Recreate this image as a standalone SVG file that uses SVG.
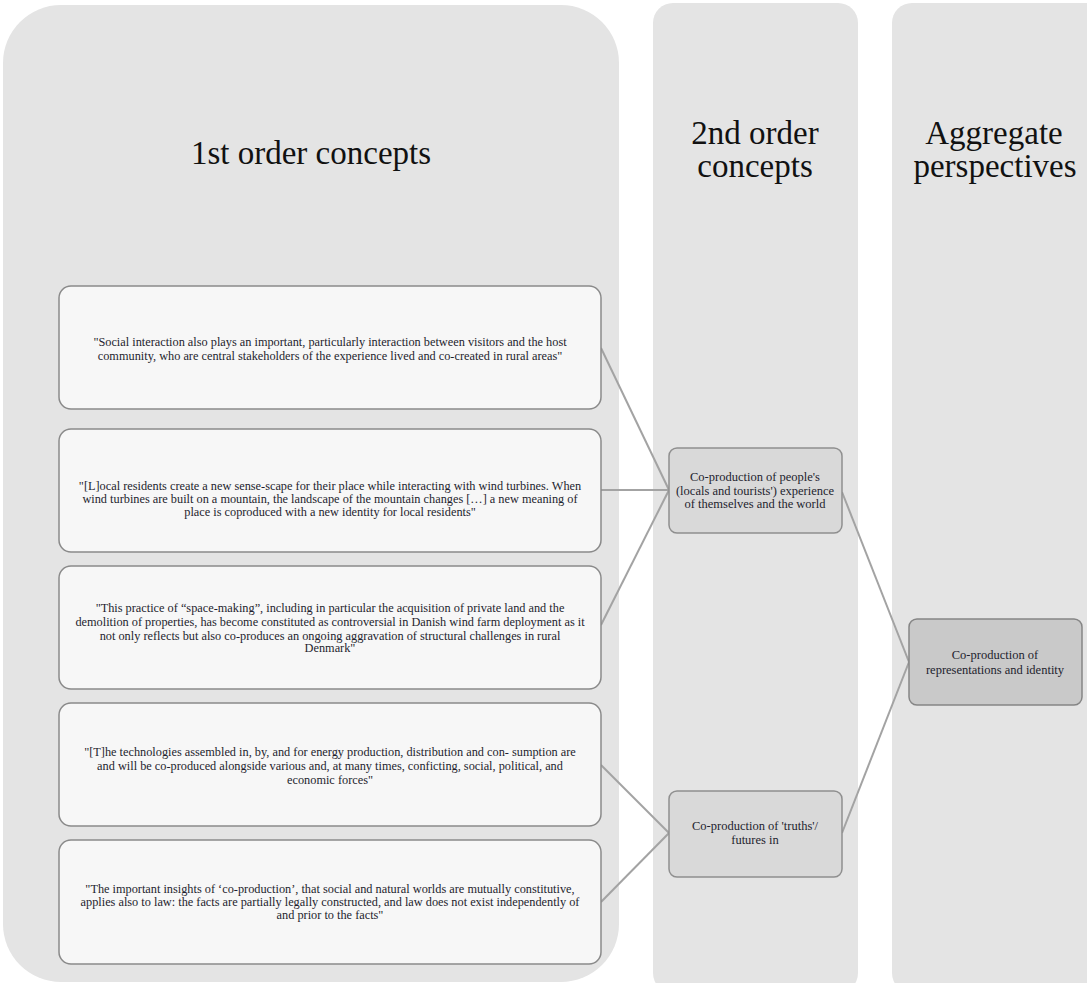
<svg xmlns="http://www.w3.org/2000/svg" width="1087" height="983" viewBox="0 0 1087 983">
<style>
.col{fill:#e4e4e4;}
.q{fill:#f7f7f7;stroke:#8a8a8a;stroke-width:1.5;}
.c2{fill:#d9d9d9;stroke:#8f8f8f;stroke-width:1.5;}
.c3{fill:#c9c9c9;stroke:#858585;stroke-width:1.5;}
.h{font-family:"Liberation Serif",serif;font-size:33px;fill:#111;text-anchor:middle;}
.t{font-family:"Liberation Serif",serif;font-size:12.3px;fill:#1e1e2e;text-anchor:middle;}
.s{font-family:"Liberation Serif",serif;font-size:12.5px;fill:#1e1e2e;text-anchor:middle;}
.ln{stroke:#a3a3a3;stroke-width:2;fill:none;}
</style>
<rect width="1087" height="983" fill="#ffffff"/>
<g id="col1"><rect class="col" x="3" y="5" width="616" height="977" rx="58"/><text class="h" x="311" y="164">1st order concepts</text></g>
<g id="col2"><rect class="col" x="653" y="3" width="205" height="990" rx="20"/><text class="h" x="755" y="144">2nd order</text><text class="h" x="755" y="177">concepts</text></g>
<g id="col3"><rect class="col" x="892" y="3" width="215" height="990" rx="20"/><text class="h" x="994" y="144">Aggregate</text><text class="h" x="995" y="177">perspectives</text></g>
<g id="connectors">
<line class="ln" x1="601" y1="348" x2="669" y2="490"/>
<line class="ln" x1="601" y1="490" x2="669" y2="490"/>
<line class="ln" x1="601" y1="625" x2="669" y2="490"/>
<line class="ln" x1="601" y1="765" x2="669" y2="833"/>
<line class="ln" x1="601" y1="902" x2="669" y2="833"/>
<line class="ln" x1="842" y1="492" x2="909" y2="662"/>
<line class="ln" x1="842" y1="833" x2="909" y2="662"/>
</g>
<g id="q1"><rect class="q" x="59" y="286" width="542" height="123" rx="12"/>
<text class="t" x="330" y="346">"Social interaction also plays an important, particularly interaction between  visitors  and the host</text>
<text class="t" x="330" y="360">community, who are central stakeholders of the experience lived and co-created in rural areas"</text></g>
<g id="q2"><rect class="q" x="59" y="429" width="542" height="123" rx="12"/>
<text class="t" x="330" y="490">"[L]ocal residents create a new sense-scape for their place while interacting with wind turbines. When</text>
<text class="t" x="330" y="503">wind turbines are built on a mountain, the landscape of the mountain changes […] a new meaning of</text>
<text class="t" x="330" y="516">place is coproduced with a new identity for local residents"</text></g>
<g id="q3"><rect class="q" x="59" y="566" width="542" height="123" rx="12"/>
<text class="t" x="330" y="612">"This practice of “space-making”, including in particular the acquisition of private land and the</text>
<text class="t" x="330" y="626">demolition of properties, has become constituted as controversial in Danish wind farm deployment as it</text>
<text class="t" x="330" y="640">not only reflects but  also co-produces an ongoing aggravation of structural challenges in rural</text>
<text class="t" x="330" y="652">Denmark"</text></g>
<g id="q4"><rect class="q" x="59" y="703" width="542" height="123" rx="12"/>
<text class="t" x="330" y="756">"[T]he technologies  assembled in, by,  and for energy production, distribution and con-  sumption are</text>
<text class="t" x="330" y="770">and will be co-produced alongside various and, at many  times, conficting, social, political, and</text>
<text class="t" x="330" y="784">economic forces"</text></g>
<g id="q5"><rect class="q" x="59" y="840" width="542" height="124" rx="12"/>
<text class="t" x="330" y="893">"The important insights of ‘co-production’, that social and natural worlds are mutually constitutive,</text>
<text class="t" x="330" y="906">applies also to law: the facts are partially legally constructed, and law does not exist independently of</text>
<text class="t" x="330" y="919">and prior to the facts"</text></g>
<g id="s1"><rect class="c2" x="669" y="448" width="173" height="85" rx="8"/>
<text class="s" x="755" y="481">Co-production of people's</text>
<text class="s" x="755" y="495">(locals and tourists') experience</text>
<text class="s" x="755" y="508">of themselves and the world</text></g>
<g id="s2"><rect class="c2" x="669" y="791" width="173" height="86" rx="8"/>
<text class="s" x="755" y="830">Co-production of 'truths'/</text>
<text class="s" x="755" y="844">futures in</text></g>
<g id="a1"><rect class="c3" x="909" y="619" width="173" height="86" rx="8"/>
<text class="s" x="995" y="659">Co-production of</text>
<text class="s" x="995" y="674">representations and identity</text></g>
</svg>
